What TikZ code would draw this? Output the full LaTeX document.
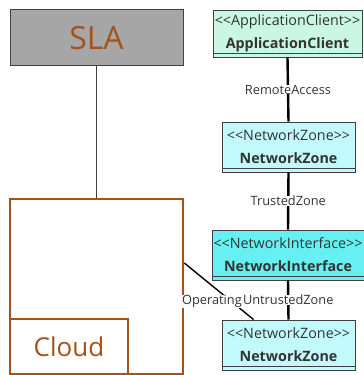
\documentclass[tikz,border=0pt]{standalone}
\usepackage{fontspec}
\setmainfont{Open Sans}
\definecolor{slagray}{HTML}{A6A6A6}
\definecolor{rust}{HTML}{A5521B}
\definecolor{mint}{HTML}{C9F7E3}
\definecolor{paleaqua}{HTML}{C2FAFC}
\definecolor{aqua}{HTML}{66F0F2}
\definecolor{edge}{HTML}{404040}
\definecolor{labeltext}{HTML}{333333}
\tikzset{
  classbox/.style={draw=edge, line width=0.8pt, inner sep=0pt, align=center,
    minimum height=50pt, text=labeltext, font=\fontsize{14.3}{23}\selectfont},
  groupbox/.style={draw=rust, line width=2.6pt, inner sep=0pt, text=rust},
  link/.style={line width=2.4pt},
  linklabel/.style={fill=white, inner sep=0.3pt, text=labeltext, font=\fontsize{12.8}{14}\selectfont}
}
\begin{document}
\begin{tikzpicture}[x=1pt,y=1pt]
  \useasboundingbox (0,0) rectangle (364,375);

  % Left side: SLA and the cloud group
  \node[draw=edge, line width=1pt, fill=slagray, text=rust, minimum width=173pt, minimum height=56pt,
    font=\fontsize{32}{36}\selectfont] (sla) at (96.5,337) {SLA};
  \node[groupbox, minimum width=173pt, minimum height=175pt] (infra) at (96.5,88.5) {};
  \node[groupbox, minimum width=118pt, minimum height=55pt, font=\fontsize{26}{30}\selectfont] (cloud) at (69,28.5) {Cloud};
  \draw[edge, line width=1pt] (sla.south) -- (infra.north);

  % Right side: the chain of zones
  \node[classbox, fill=mint, minimum width=149pt, minimum height=47pt] (appclient) at (287.5,341.5)
    {<{}<ApplicationClient>{}>\\\textbf{ApplicationClient}};
  \node[classbox, fill=paleaqua, minimum width=133pt] (zone1) at (288.5,228)
    {<{}<NetworkZone>{}>\\\textbf{NetworkZone}};
  \node[classbox, fill=aqua, minimum width=152pt] (iface) at (288,120)
    {<{}<NetworkInterface>{}>\\\textbf{NetworkInterface}};
  \node[classbox, fill=paleaqua, minimum width=133pt] (zone2) at (288.5,30)
    {<{}<NetworkZone>{}>\\\textbf{NetworkZone}};

  % Double bottom edges
  \foreach \n in {appclient, zone1, iface, zone2}
    \draw[edge, line width=0.6pt] ([yshift=4pt]\n.south west) -- ([yshift=4pt]\n.south east);

  % Connectors
  \draw[link] (appclient.south) -- node[linklabel] {RemoteAccess} (zone1.north);
  \draw[link] (zone1.south) -- node[linklabel] {TrustedZone} (iface.north);
  \draw[link] (iface.south) -- node[linklabel] {UntrustedZone} (zone2.north);
  \draw[line width=1.4pt] (infra.east |- 0,112) -- node[linklabel, pos=0.5, xshift=-7pt, yshift=-10pt] {Operating}
    ([xshift=32pt]zone2.north west);
\end{tikzpicture}
\end{document}
